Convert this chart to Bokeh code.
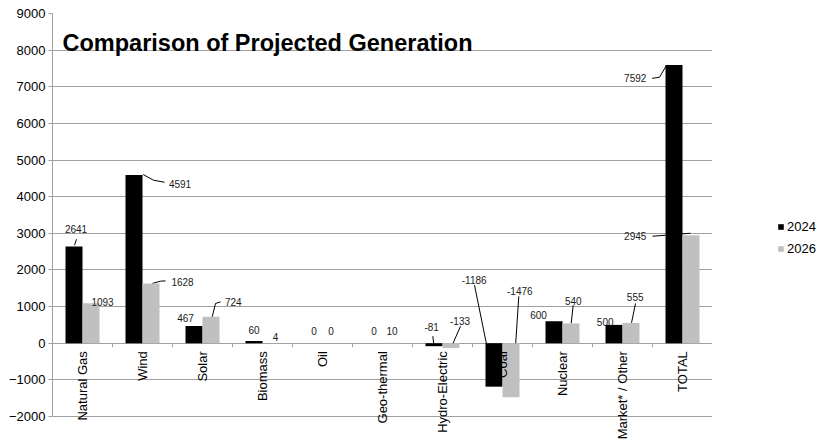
from math import pi
from bokeh.plotting import figure
from bokeh.layouts import row
from bokeh.models import (ColumnDataSource, FactorRange, Range1d, FixedTicker, Label,
                          Legend, LegendItem)
from bokeh.transform import dodge
from bokeh.core.properties import value
from bokeh.embed import file_html
from bokeh.resources import INLINE

# ---------------- data ----------------
categories = ["Natural Gas", "Wind", "Solar", "Biomass", "Oil", "Geo-thermal",
              "Hydro-Electric", "Coal", "Nuclear", "Market* / Other", "TOTAL"]
values_2024 = [2641, 4591, 467, 60, 0, 0, -81, -1186, 600, 500, 7592]
values_2026 = [1093, 1628, 724, 4, 0, 10, -133, -1476, 540, 555, 2945]
series_names = ["2024", "2026"]
y_ticks = [-2000, -1000, 0, 1000, 2000, 3000, 4000, 5000, 6000, 7000, 8000, 9000]

# ---------------- label placement (pixels, relative to bar end; +dy = up) ----------------
lbl_dx_2024 = [2, 46, -8.5, 0, 0, 0, -2.3, -19.8, -15.5, -8.8, -38.8]
lbl_dy_2024 = [17, -8.5, 8, 11.5, 12, 12, 18.7, 106.5, 6, 3, -12.5]
lbl_dx_2026 = [11.5, 31.5, 22.3, 4.5, 0, 1, 9, 8.8, 2.3, 4.2, -55.8]
lbl_dy_2026 = [1.3, 1.7, 14.8, 6, 12, 11.6, 27.2, 106.3, 22.5, 26, -0.6]
leaders_2024 = [[(0.5, 1.2), (2.5, 7.2)],
                [(9.2, 0.5), (19.5, -5.2), (30.5, -7.2)],
                None, None, None, None,
                [(-1.2, 10), (-0.2, 1.7)],
                [(-19.5, 101.5), (-7.5, 42.5)],
                None, None,
                [(-21.8, -13.2), (-14.5, -12.2), (-7.5, -0.2)]]
leaders_2026 = [None,
                [(1.2, 0.1), (9.5, 2.4), (14.5, 2.7)],
                [(1.2, -0.2), (4.5, 13.2), (9.5, 14.8)],
                None, None, None,
                [(9.5, 21.9), (1.2, 2.9)],
                [(7.8, 101), (1.2, 0.3)],
                [(2.2, 18.2), (0.2, -0.1)],
                [(4.5, 19.4), (0.5, 0)],
                [(-38.5, -0.9), (-25.5, 0.1), (-0.5, 2.1)]]

# ---------------- layout ----------------
W_MAIN, W_LEG, H = 712, 105, 442
B_LEFT, B_RIGHT, B_TOP, B_BOTTOM = 52, 0, 13, 0
Y_END = 9000
Y_START = -2710
FRAME_W = W_MAIN - B_LEFT - B_RIGHT
FRAME_H = H - B_TOP - B_BOTTOM
PX_X = len(categories) / FRAME_W          # category units per pixel
PX_Y = (Y_END - Y_START) / FRAME_H        # data units per pixel
BAR_W = 17 / 60

FONT = "Liberation Sans"
C_2024 = "#000000"
C_2026 = "#c0c0c0"
GRID = "#a0a0a0"

p = figure(width=W_MAIN, height=H, x_range=FactorRange(*categories, range_padding=0),
           y_range=Range1d(Y_START, Y_END), output_backend="svg", toolbar_location=None,
           x_axis_location=None, min_border_left=B_LEFT, min_border_right=B_RIGHT,
           min_border_top=B_TOP, min_border_bottom=B_BOTTOM)
p.outline_line_color = None
p.background_fill_color = "white"
p.xgrid.grid_line_color = None
p.ygrid.grid_line_color = GRID
p.ygrid.grid_line_width = 1

ax = p.yaxis[0]
ax.ticker = FixedTicker(ticks=y_ticks)
ax.bounds = (min(y_ticks), max(y_ticks))
ax.axis_line_color = GRID
ax.major_tick_line_color = GRID
ax.major_tick_in = 0
ax.major_tick_out = 4
ax.minor_tick_line_color = None
ax.major_label_standoff = 3
ax.major_label_text_font = FONT
ax.major_label_text_font_size = "13px"
ax.major_label_text_color = "#000000"

# category boundary ticks on the zero line
bnd = list(range(1, len(categories) + 1))
p.segment(x0=bnd, x1=bnd, y0=[0] * len(bnd), y1=[-4 * PX_Y] * len(bnd),
          line_color=GRID, line_width=1)

# leader lines
def leader_lines(vals, leaders, shift):
    xs, ys = [], []
    for i, (v, pts) in enumerate(zip(vals, leaders)):
        if not pts:
            continue
        cx = i + 0.5 + shift
        xs.append([cx + dx * PX_X for dx, dy in pts])
        ys.append([v + dy * PX_Y for dx, dy in pts])
    return xs, ys

for vals, leaders, shift in ((values_2024, leaders_2024, -BAR_W / 2),
                             (values_2026, leaders_2026, BAR_W / 2)):
    xs, ys = leader_lines(vals, leaders, shift)
    p.multi_line(xs=xs, ys=ys, line_color="#000000", line_width=1)

# bars
src = ColumnDataSource(dict(cat=categories, v2024=values_2024, v2026=values_2026,
                            t2024=[str(v) for v in values_2024],
                            t2026=[str(v) for v in values_2026],
                            dx2024=lbl_dx_2024, dy2024=[-d for d in lbl_dy_2024],
                            dx2026=lbl_dx_2026, dy2026=[-d for d in lbl_dy_2026]))
r1 = p.vbar(x=dodge("cat", -BAR_W / 2, range=p.x_range), top="v2024", bottom=0,
            width=BAR_W, source=src, fill_color=C_2024, line_color=None)
r2 = p.vbar(x=dodge("cat", BAR_W / 2, range=p.x_range), top="v2026", bottom=0,
            width=BAR_W, source=src, fill_color=C_2026, line_color=None)

# category labels (on top of the bars, as in the reference)
src_c = ColumnDataSource(dict(cat=categories, y=[0] * len(categories)))
p.text(x="cat", y="y", text="cat", source=src_c, angle=pi / 2, text_align="right",
       text_baseline="middle", y_offset=8, text_font=value(FONT),
       text_font_size="13px", text_color="#000000")

# data labels
for key, shift in (("2024", -BAR_W / 2), ("2026", BAR_W / 2)):
    p.text(x=dodge("cat", shift, range=p.x_range), y="v" + key, text="t" + key,
           x_offset="dx" + key, y_offset="dy" + key, source=src,
           text_align="center", text_baseline="middle", text_font=value(FONT),
           text_font_size="10px", text_color="#1a1a1a")

# title
p.add_layout(Label(x=10 * PX_X, y=Y_END - 29.3 * PX_Y, text="Comparison of Projected Generation",
                   text_font=FONT, text_font_size="23.5px", text_font_style="bold",
                   text_color="#000000", text_baseline="alphabetic", text_align="left"))

# ---------------- legend panel ----------------
p2 = figure(width=W_LEG, height=H, x_range=Range1d(0, 1), y_range=Range1d(0, 1),
            output_backend="svg", toolbar_location=None, x_axis_location=None,
            y_axis_location=None, min_border=0)
p2.outline_line_color = None
p2.grid.visible = False
# swatch carriers placed outside the visible range (only their legend entries show)
lr1 = p2.vbar(x=[-5], top=[-5], bottom=[-6], width=0.1, fill_color=C_2024, line_color=None)
lr2 = p2.vbar(x=[-5], top=[-5], bottom=[-6], width=0.1, fill_color=C_2026, line_color=None)
legend = Legend(items=[LegendItem(label=series_names[0], renderers=[lr1]),
                       LegendItem(label=series_names[1], renderers=[lr2])],
                location=(65, 184), orientation="vertical", margin=0, padding=0,
                spacing=2, label_height=20, glyph_height=7, glyph_width=7,
                label_standoff=3, label_text_font=FONT, label_text_font_size="13px",
                label_text_color="#000000", border_line_color=None,
                background_fill_alpha=0)
p2.add_layout(legend)

layout = row(p, p2, spacing=0)
open("out.html", "w").write(file_html(layout, INLINE))
